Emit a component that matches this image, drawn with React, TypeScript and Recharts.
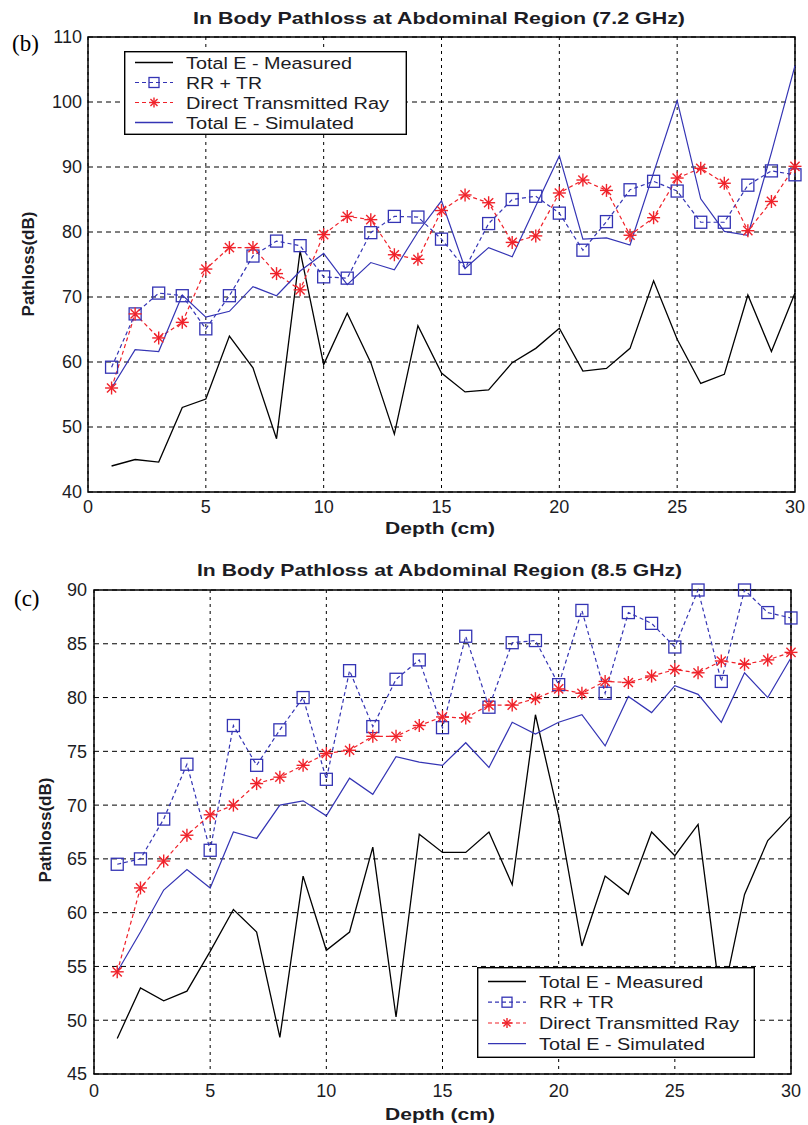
import React from 'react';
import { LineChart, Line, XAxis, YAxis, CartesianGrid, ReferenceArea, Legend } from 'recharts';

// depth (cm) along the x axis
const depth = [1, 2, 3, 4, 5, 6, 7, 8, 9, 10, 11, 12, 13, 14, 15, 16, 17, 18, 19, 20, 21, 22, 23, 24, 25, 26, 27, 28, 29, 30];
const xTicks = [0, 5, 10, 15, 20, 25, 30];

// (b) 7.2 GHz
const yTicks72 = [40, 50, 60, 70, 80, 90, 100, 110];
const measured72 = [44.0, 45.0, 44.6, 53.0, 54.3, 64.0, 59.1, 48.2, 77.1, 59.6, 67.5, 59.9, 48.9, 65.6, 58.3, 55.4, 55.7, 59.9, 62.1, 65.2, 58.6, 59.0, 62.1, 72.5, 63.5, 56.7, 58.1, 70.3, 61.6, 70.6];
const rrtr72 = [59.2, 67.4, 70.6, 70.2, 65.1, 70.2, 76.3, 78.6, 77.9, 73.1, 72.9, 79.9, 82.4, 82.3, 78.9, 74.4, 81.3, 85.0, 85.5, 82.9, 77.2, 81.6, 86.5, 87.8, 86.3, 81.5, 81.5, 87.2, 89.4, 88.8];
const direct72 = [56.0, 67.4, 63.7, 66.1, 74.3, 77.6, 77.6, 73.6, 71.1, 79.6, 82.4, 81.9, 76.5, 75.8, 83.3, 85.7, 84.5, 78.4, 79.4, 86.0, 88.0, 86.4, 79.5, 82.2, 88.3, 89.8, 87.5, 80.2, 84.7, 90.1];
const simulated72 = [56.0, 61.9, 61.6, 70.3, 66.9, 67.8, 71.6, 70.2, 74.0, 76.7, 71.9, 75.3, 74.2, 80.0, 84.8, 74.4, 77.6, 76.2, 84.0, 91.7, 78.9, 79.1, 78.0, 89.1, 100.2, 85.1, 80.1, 79.5, 92.2, 105.6];

// (c) 8.5 GHz
const yTicks85 = [45, 50, 55, 60, 65, 70, 75, 80, 85, 90];
const measured85 = [48.3, 53.0, 51.8, 52.7, 56.4, 60.3, 58.2, 48.4, 63.4, 56.5, 58.2, 66.1, 50.3, 67.3, 65.6, 65.6, 67.5, 62.6, 78.4, 69.0, 56.9, 63.4, 61.7, 67.5, 65.3, 68.2, 51.4, 61.7, 66.7, 69.0];
const rrtr85 = [64.5, 65.0, 68.7, 73.8, 65.8, 77.4, 73.7, 77.0, 80.0, 72.4, 82.5, 77.3, 81.7, 83.5, 77.2, 85.7, 79.1, 85.1, 85.3, 81.2, 88.1, 80.4, 87.9, 86.9, 84.7, 90.0, 81.5, 90.0, 87.9, 87.4];
const direct85 = [54.5, 62.3, 64.8, 67.2, 69.1, 70.0, 72.0, 72.6, 73.7, 74.8, 75.1, 76.4, 76.4, 77.4, 78.2, 78.1, 79.3, 79.3, 79.9, 80.8, 80.4, 81.5, 81.4, 82.0, 82.6, 82.3, 83.4, 83.1, 83.5, 84.2];
const simulated85 = [54.5, 58.2, 62.1, 64.0, 62.3, 67.5, 66.9, 70.0, 70.4, 69.0, 72.5, 71.0, 74.5, 74.0, 73.7, 75.8, 73.5, 77.7, 76.6, 77.7, 78.4, 75.5, 80.1, 78.6, 81.1, 80.3, 77.7, 82.3, 80.0, 83.7];

const seriesNames = ['Total E - Measured', 'RR + TR', 'Direct Transmitted Ray', 'Total E - Simulated'];

const BLUE = '#3434b4';
const RED = '#f0222a';
const INK = '#1c1c24';
const FONT = '"Liberation Sans", Arial, sans-serif';

const build = (m: number[], r: number[], d: number[], s: number[]) =>
  depth.map((x, i) => ({ depth: x, measured: m[i], rrtr: r[i], direct: d[i], simulated: s[i] }));

const data72 = build(measured72, rrtr72, direct72, simulated72);
const data85 = build(measured85, rrtr85, direct85, simulated85);

const squareAt = (cx: number, cy: number, half: number, key?: string) => (
  <rect key={key} x={cx - half} y={cy - half} width={half * 2} height={half * 2} fill="none" stroke={BLUE} strokeWidth={1.3} />
);

const starAt = (cx: number, cy: number, r: number, key?: string) => {
  const d = r * 0.707;
  return (
    <g key={key} stroke={RED} strokeWidth={1.4}>
      <line x1={cx - r} y1={cy} x2={cx + r} y2={cy} />
      <line x1={cx} y1={cy - r} x2={cx} y2={cy + r} />
      <line x1={cx - d} y1={cy - d} x2={cx + d} y2={cy + d} />
      <line x1={cx - d} y1={cy + d} x2={cx + d} y2={cy - d} />
    </g>
  );
};

const SquareDot = (props: any) => {
  const { cx, cy, index } = props;
  if (cx == null || cy == null) return <g key={`sq-${index}`} />;
  return squareAt(cx, cy, 6, `sq-${index}`);
};

const StarDot = (props: any) => {
  const { cx, cy, index } = props;
  if (cx == null || cy == null) return <g key={`st-${index}`} />;
  return starAt(cx, cy, 6.5, `st-${index}`);
};

type BoxProps = { w: number; h: number; rows: number[]; widths: number[] };

const LegendBox = ({ w, h, rows, widths }: BoxProps) => (
  <svg width={w} height={h} style={{ display: 'block' }}>
    <rect x={0.7} y={0.7} width={w - 1.4} height={h - 1.4} fill="#fff" stroke="#000" strokeWidth={1.4} />
    {seriesNames.map((name, i) => {
      const y = rows[i];
      return (
        <g key={name}>
          {i === 0 && <line x1={11} y1={y} x2={49} y2={y} stroke="#000" strokeWidth={1.3} />}
          {i === 1 && (
            <g>
              <line x1={11} y1={y} x2={49} y2={y} stroke={BLUE} strokeWidth={1.2} strokeDasharray="4 3" />
              {squareAt(30, y, 5)}
            </g>
          )}
          {i === 2 && (
            <g>
              <line x1={11} y1={y} x2={49} y2={y} stroke={RED} strokeWidth={1.2} strokeDasharray="4 3" />
              {starAt(30, y, 5)}
            </g>
          )}
          {i === 3 && <line x1={11} y1={y} x2={49} y2={y} stroke={BLUE} strokeWidth={1.3} />}
          <text x={62} y={y + 6} fontSize={16} fill={INK} fontFamily={FONT} textLength={widths[i]} lengthAdjust="spacingAndGlyphs">
            {name}
          </text>
        </g>
      );
    })}
  </svg>
);

type PanelProps = {
  data: any[];
  height: number;
  margin: { top: number; right: number; bottom: number; left: number };
  yDomain: [number, number];
  yTicks: number[];
  xTickMargin: number;
  yTickMargin: number;
  legendPos: { left: number; top: number };
  legend: BoxProps;
};

const Panel = ({ data, height, margin, yDomain, yTicks, xTickMargin, yTickMargin, legendPos, legend }: PanelProps) => (
  <LineChart width={808} height={height} data={data} margin={margin}>
    <CartesianGrid horizontal vertical={false} stroke="#000" strokeDasharray="5 4" />
    <CartesianGrid horizontal={false} vertical stroke="#000" strokeDasharray="3 4" />
    <XAxis
      type="number"
      dataKey="depth"
      domain={[0, 30]}
      ticks={xTicks}
      interval={0}
      height={45}
      axisLine={false}
      tickLine={false}
      tickSize={0}
      tickMargin={xTickMargin}
      tick={{ fontSize: 18, fill: INK, fontFamily: FONT }}
    />
    <YAxis
      type="number"
      domain={yDomain}
      ticks={yTicks}
      interval={0}
      width={60}
      axisLine={false}
      tickLine={false}
      tickSize={0}
      tickMargin={yTickMargin}
      tick={{ fontSize: 18, fill: INK, fontFamily: FONT }}
    />
    <ReferenceArea x1={0} x2={30} y1={yDomain[0]} y2={yDomain[1]} fill="none" stroke="#000" strokeWidth={1.5} strokeOpacity={1} />
    <Legend
      layout="vertical"
      align="center"
      verticalAlign="middle"
      wrapperStyle={{ left: legendPos.left, top: legendPos.top, width: legend.w, height: legend.h }}
      content={() => <LegendBox {...legend} />}
    />
    <Line dataKey="measured" name={seriesNames[0]} stroke="#000" strokeWidth={1.3} dot={false} isAnimationActive={false} />
    <Line dataKey="rrtr" name={seriesNames[1]} stroke={BLUE} strokeWidth={1.2} strokeDasharray="4 3" dot={SquareDot} isAnimationActive={false} />
    <Line dataKey="direct" name={seriesNames[2]} stroke={RED} strokeWidth={1.2} strokeDasharray="4 3" dot={StarDot} isAnimationActive={false} />
    <Line dataKey="simulated" name={seriesNames[3]} stroke={BLUE} strokeWidth={1.2} dot={false} isAnimationActive={false} />
  </LineChart>
);

const titleStyle = { fontSize: 17, fontWeight: 700, fill: INK, fontFamily: FONT };

export default function App() {
  return (
    <div style={{ position: 'absolute', left: 0, top: 0, width: 808, height: 1125, background: '#fff' }}>
      <div style={{ position: 'absolute', left: 0, top: 0 }}>
        <Panel
          data={data72}
          height={560}
          margin={{ top: 37, right: 13, bottom: 23, left: 28 }}
          yDomain={[40, 110]}
          yTicks={yTicks72}
          xTickMargin={8}
          yTickMargin={6}
          legendPos={{ left: 124, top: 51 }}
          legend={{ w: 283, h: 84, rows: [11.5, 31.5, 51.5, 71.5], widths: [166, 76, 203, 168] }}
        />
      </div>
      <div style={{ position: 'absolute', left: 0, top: 540 }}>
        <Panel
          data={data85}
          height={585}
          margin={{ top: 50, right: 17, bottom: 6, left: 34 }}
          yDomain={[45, 90]}
          yTicks={yTicks85}
          xTickMargin={10}
          yTickMargin={7}
          legendPos={{ left: 477, top: 427 }}
          legend={{ w: 278, h: 91, rows: [14.5, 35.2, 56, 76.7], widths: [164, 75, 200, 166] }}
        />
      </div>
      <svg width={808} height={1125} style={{ position: 'absolute', left: 0, top: 0, pointerEvents: 'none' }}>
        <text x={439} y={24} textAnchor="middle" textLength={492} lengthAdjust="spacingAndGlyphs" style={titleStyle}>
          In Body Pathloss at Abdominal Region (7.2 GHz)
        </text>
        <text x={439.5} y={576} textAnchor="middle" textLength={485} lengthAdjust="spacingAndGlyphs" style={titleStyle}>
          In Body Pathloss at Abdominal Region (8.5 GHz)
        </text>
        <text x={12} y={51} fontSize={23} fontFamily='"Liberation Serif", "Times New Roman", serif' fill="#000">(b)</text>
        <text x={14} y={606} fontSize={23} fontFamily='"Liberation Serif", "Times New Roman", serif' fill="#000">(c)</text>
        <text x={440} y={534} textAnchor="middle" textLength={110} lengthAdjust="spacingAndGlyphs" style={titleStyle}>
          Depth (cm)
        </text>
        <text x={440} y={1120} textAnchor="middle" textLength={110} lengthAdjust="spacingAndGlyphs" style={titleStyle}>
          Depth (cm)
        </text>
        <text transform="translate(34, 264) rotate(-90)" textAnchor="middle" style={titleStyle}>
          Pathloss(dB)
        </text>
        <text transform="translate(51, 830) rotate(-90)" textAnchor="middle" style={titleStyle}>
          Pathloss(dB)
        </text>
      </svg>
    </div>
  );
}
